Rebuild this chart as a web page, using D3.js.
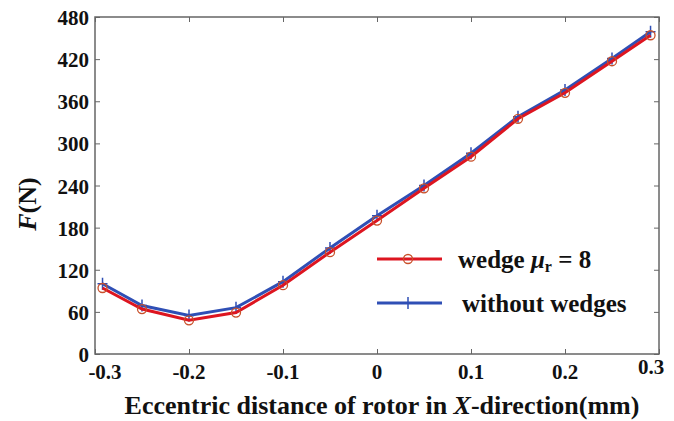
<!DOCTYPE html>
<html>
<head>
<meta charset="utf-8">
<script src="https://cdn.jsdelivr.net/npm/d3@7"></script>
<style>
  body { margin: 0; background: #fff; }
  text { font-family: "Liberation Serif", "Times New Roman", serif; font-weight: bold; }
</style>
</head>
<body>
<div id="chart"></div>
<script>
// data
var xValues = [-0.292, -0.25, -0.2, -0.15, -0.1, -0.05, 0, 0.05, 0.1, 0.15, 0.2, 0.25, 0.291];
var wedgeValues = [94, 64, 48, 59, 98, 145, 190, 236, 281, 335, 372, 417, 454];
var noWedgeValues = [100, 69, 55, 66, 103, 151, 197, 240, 286, 338, 376, 421, 459];
var xTicks = [-0.3, -0.2, -0.1, 0, 0.1, 0.2, 0.3];
var yTicks = [0, 60, 120, 180, 240, 300, 360, 420, 480];

var width = 674, height = 421;
var margin = { left: 95, right: 15, top: 17, bottom: 67 };

var svg = d3.select("#chart").append("svg")
    .attr("width", width)
    .attr("height", height);

var x = d3.scaleLinear().domain([-0.3, 0.3]).range([margin.left, width - margin.right]);
var y = d3.scaleLinear().domain([0, 480]).range([height - margin.bottom, margin.top]);

var axisColor = "#666";

// box ticks on top and right (no labels)
svg.append("g")
    .attr("transform", "translate(0," + margin.top + ")")
    .call(d3.axisBottom(x).tickValues(xTicks).tickSize(5).tickFormat(""))
    .call(function(g) { g.select(".domain").remove(); g.selectAll("line").attr("stroke", axisColor); });
svg.append("g")
    .attr("transform", "translate(" + (width - margin.right) + ",0)")
    .call(d3.axisLeft(y).tickValues(yTicks).tickSize(5).tickFormat(""))
    .call(function(g) { g.select(".domain").remove(); g.selectAll("line").attr("stroke", axisColor); });

// bottom axis
var gx = svg.append("g")
    .attr("transform", "translate(0," + (height - margin.bottom) + ")")
    .call(d3.axisTop(x).tickValues(xTicks).tickSize(5).tickFormat(""));
gx.select(".domain").remove();
gx.selectAll("line").attr("stroke", axisColor);

svg.append("g").selectAll("text")
    .data(xTicks)
    .enter()
    .append("text")
    .attr("x", function(d, i) {
        if (i == 0) return x(d) + 10;
        if (i == xTicks.length - 1) return x(d) - 8;
        return x(d);
    })
    .attr("y", function(d, i) {
        return i == xTicks.length - 1 ? height - margin.bottom + 20 : height - margin.bottom + 25;
    })
    .attr("font-size", "21px")
    .attr("fill", "#111")
    .style("text-anchor", "middle")
    .text(function(d) { return d == 0 ? "0" : d3.format(".1f")(d).replace("−", "-"); });

// left axis
var gy = svg.append("g")
    .attr("transform", "translate(" + margin.left + ",0)")
    .call(d3.axisRight(y).tickValues(yTicks).tickSize(5).tickFormat(""));
gy.select(".domain").remove();
gy.selectAll("line").attr("stroke", axisColor);

svg.append("g").selectAll("text")
    .data(yTicks)
    .enter()
    .append("text")
    .attr("x", margin.left - 6)
    .attr("y", function(d) { return y(d) + 8; })
    .attr("font-size", "21px")
    .attr("fill", "#111")
    .style("text-anchor", "end")
    .text(function(d) { return d; });

// frame
svg.append("rect")
    .attr("x", margin.left)
    .attr("y", margin.top)
    .attr("width", width - margin.left - margin.right)
    .attr("height", height - margin.top - margin.bottom)
    .attr("fill", "none")
    .attr("stroke", axisColor)
    .attr("stroke-width", 1.5);

// series
var line = d3.line()
    .x(function(d) { return x(d[0]); })
    .y(function(d) { return y(d[1]); });

var blueColor = "#2f4fb5", redColor = "#dd1520", circleColor = "#c8502a";

var blueData = d3.zip(xValues, noWedgeValues);
var redData = d3.zip(xValues, wedgeValues);

svg.append("path")
    .datum(blueData)
    .attr("d", line)
    .attr("fill", "none")
    .attr("stroke", blueColor)
    .attr("stroke-width", 3);

svg.append("g").selectAll("path")
    .data(blueData)
    .enter()
    .append("path")
    .attr("d", function(d) {
        var cx = x(d[0]), cy = y(d[1]);
        return "M" + (cx - 5) + "," + cy + "H" + (cx + 5) + "M" + cx + "," + (cy - 6) + "V" + (cy + 6);
    })
    .attr("stroke", blueColor)
    .attr("stroke-width", 1.5);

svg.append("path")
    .datum(redData)
    .attr("d", line)
    .attr("fill", "none")
    .attr("stroke", redColor)
    .attr("stroke-width", 3);

svg.append("g").selectAll("circle")
    .data(redData)
    .enter()
    .append("circle")
    .attr("cx", function(d) { return x(d[0]); })
    .attr("cy", function(d) { return y(d[1]); })
    .attr("r", 4.5)
    .attr("fill", "none")
    .attr("stroke", circleColor)
    .attr("stroke-width", 1.3);

// legend
var legend = svg.append("g");
legend.append("line")
    .attr("x1", 377).attr("x2", 442).attr("y1", 259).attr("y2", 259)
    .attr("stroke", redColor).attr("stroke-width", 3);
legend.append("circle")
    .attr("cx", 408).attr("cy", 259).attr("r", 4.5)
    .attr("fill", "none").attr("stroke", circleColor).attr("stroke-width", 1.3);
legend.append("line")
    .attr("x1", 377).attr("x2", 442).attr("y1", 303).attr("y2", 303)
    .attr("stroke", blueColor).attr("stroke-width", 3);
legend.append("path")
    .attr("d", "M403,303H413M408,297V309")
    .attr("stroke", blueColor).attr("stroke-width", 1.5);

var t1 = legend.append("text")
    .attr("x", 458).attr("y", 268)
    .attr("font-size", "25px")
    .attr("fill", "#111");
t1.append("tspan").text("wedge ");
t1.append("tspan").attr("font-style", "italic").text("μ");
t1.append("tspan").attr("font-size", "16px").attr("dy", 4).text("r");
t1.append("tspan").attr("dy", -4).text(" = 8");

legend.append("text")
    .attr("x", 462).attr("y", 312)
    .attr("font-size", "25px")
    .attr("fill", "#111")
    .text("without wedges");

// axis titles
var xt = svg.append("text")
    .attr("x", 382).attr("y", 414)
    .attr("font-size", "26px")
    .attr("fill", "#111")
    .style("text-anchor", "middle");
xt.append("tspan").text("Eccentric distance of rotor in ");
xt.append("tspan").attr("font-style", "italic").text("X");
xt.append("tspan").text("-direction(mm)");

var yt = svg.append("text")
    .attr("transform", "translate(36,204) rotate(-90)")
    .attr("font-size", "26px")
    .attr("fill", "#111")
    .style("text-anchor", "middle");
yt.append("tspan").attr("font-style", "italic").text("F");
yt.append("tspan").text("(N)");
</script>
</body>
</html>
